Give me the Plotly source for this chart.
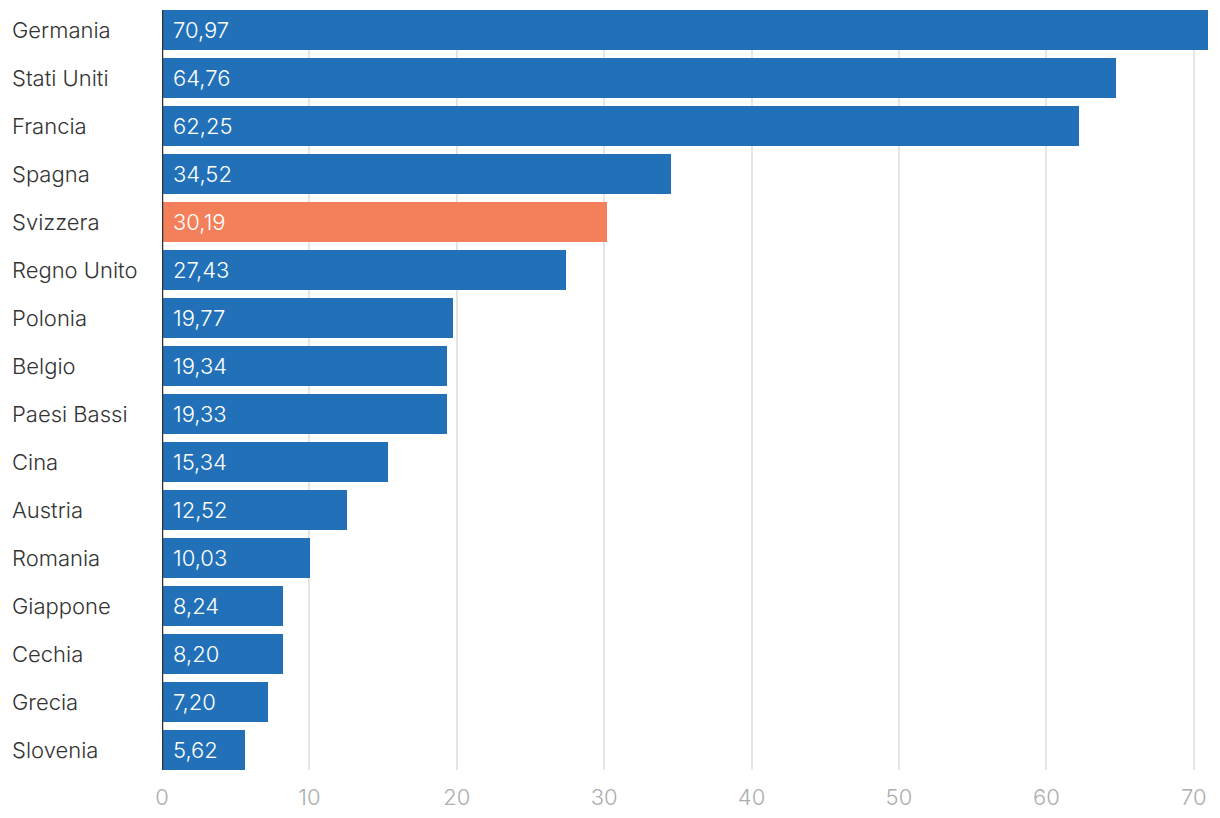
import plotly.graph_objects as go

countries = ["Germania", "Stati Uniti", "Francia", "Spagna", "Svizzera", "Regno Unito",
             "Polonia", "Belgio", "Paesi Bassi", "Cina", "Austria", "Romania",
             "Giappone", "Cechia", "Grecia", "Slovenia"]
values = [70.97, 64.76, 62.25, 34.52, 30.19, 27.43, 19.77, 19.34, 19.33, 15.34,
          12.52, 10.03, 8.24, 8.20, 7.20, 5.62]
highlight = "Svizzera"
x_ticks = [0, 10, 20, 30, 40, 50, 60, 70]

BLUE = "#2271b8"
ORANGE = "#f47f5b"
FONT = "Inter"

colors = [ORANGE if c == highlight else BLUE for c in countries]
labels = [f"{v:.2f}".replace(".", ",") for v in values]

fig = go.Figure(go.Bar(
    x=values, y=countries, orientation="h",
    marker=dict(color=colors, line=dict(width=0)),
    width=0.8333, hoverinfo="skip",
))

PLOT_W = 1204 - 154 - 4
annotations = []
for c, v, t in zip(countries, values, labels):
    annotations.append(dict(x=0, y=c, xref="x", yref="y", text=t, showarrow=False,
                            xanchor="left", xshift=9,
                            font=dict(family=FONT, size=22, color="white", weight=300)))
    annotations.append(dict(x=-152 / PLOT_W, y=c, xref="paper", yref="y", text=c,
                            showarrow=False, xanchor="left",
                            font=dict(family=FONT, size=22, color="#333333", weight=300)))

fig.update_layout(
    width=1204, height=802,
    margin=dict(l=154, r=4, t=2, b=40),
    plot_bgcolor="white", paper_bgcolor="white",
    showlegend=False,
    annotations=annotations,
    bargap=0,
    xaxis=dict(range=[0, 70.97], tickvals=x_ticks, showgrid=True, gridcolor="#e5e5e5",
               gridwidth=2, zeroline=False, showline=False, automargin=False,
               ticks="outside", ticklen=8, tickcolor="rgba(0,0,0,0)",
               tickfont=dict(family=FONT, size=22, color="#adadad", weight=300)),
    yaxis=dict(type="category", categoryorder="array", categoryarray=countries,
               range=[len(countries) - 1 + 0.41667, -0.41667], automargin=False,
               showticklabels=False, showgrid=False, zeroline=False, showline=False),
    shapes=[dict(type="line", xref="x", yref="paper", x0=0, x1=0, y0=0, y1=1,
                 line=dict(color="#333333", width=2.5), layer="above")],
)

fig.write_html("out.html")
